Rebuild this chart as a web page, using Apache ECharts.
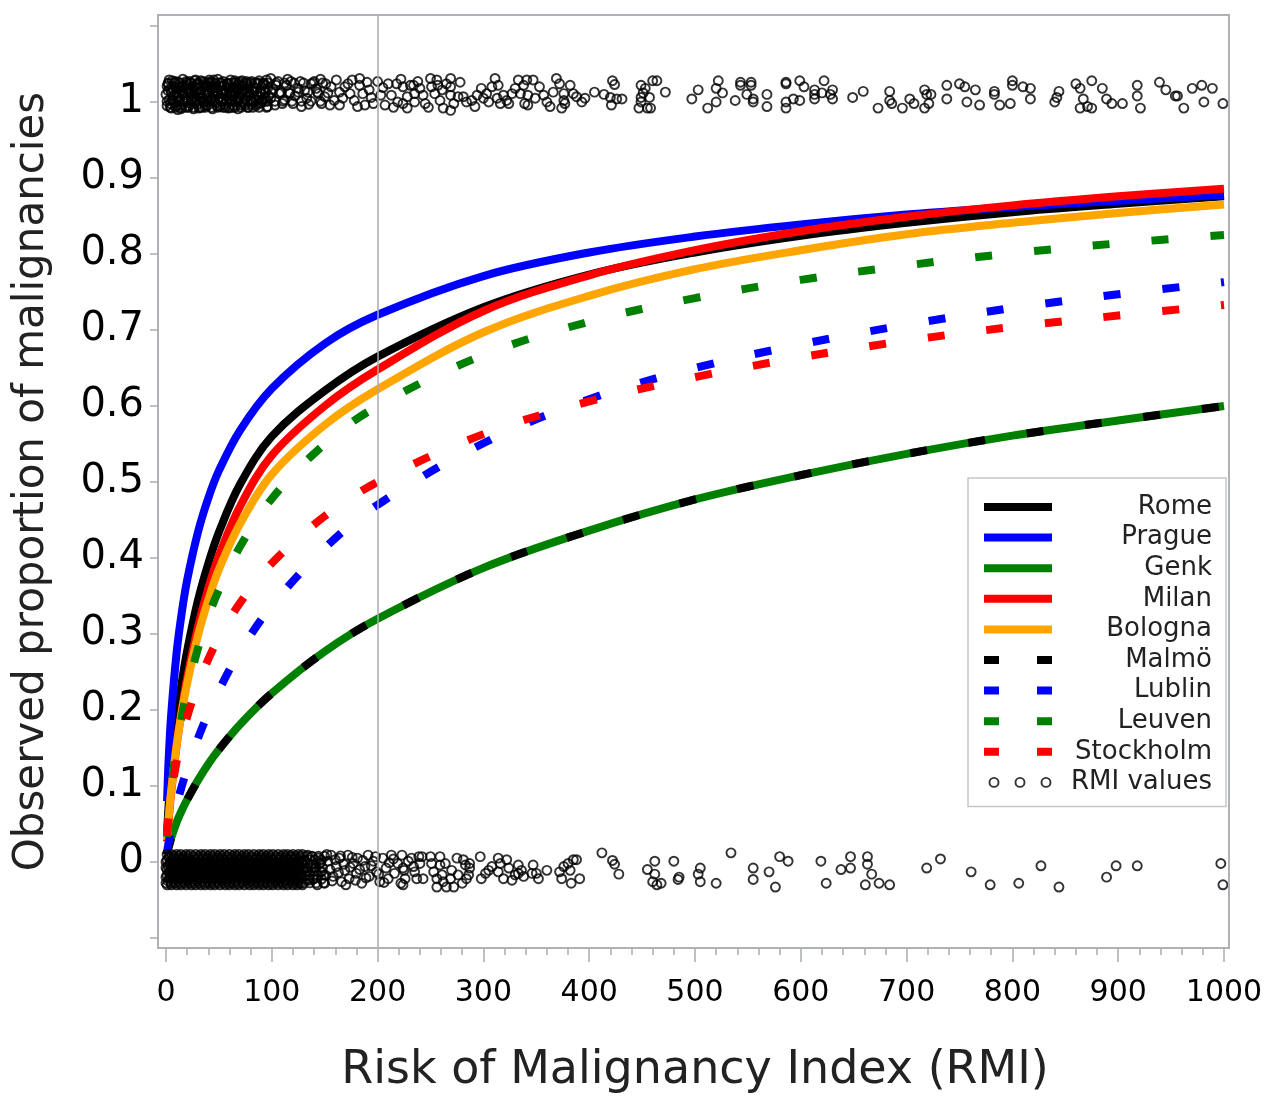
<!DOCTYPE html>
<html><head><meta charset="utf-8">
<script src="https://cdn.jsdelivr.net/npm/echarts@6/dist/echarts.min.js"></script>
<style>html,body{margin:0;padding:0;background:#fff}#c{width:1270px;height:1102px}</style>
</head><body><div id="c"></div>
<script>
// ---------- data ----------
const rmiGrid = [1,2,3,5,10,15,20,30,40,50,70,100,150,200,300,400,500,600,700,800,900,1000];
const rome      = [0.039,0.064,0.085,0.120,0.187,0.237,0.278,0.343,0.393,0.434,0.497,0.560,0.620,0.665,0.730,0.773,0.802,0.824,0.841,0.855,0.866,0.876];
const prague    = [0.080,0.119,0.149,0.196,0.275,0.329,0.371,0.433,0.479,0.515,0.568,0.623,0.682,0.720,0.771,0.802,0.823,0.839,0.852,0.862,0.870,0.878];
const genk      = [0.010,0.017,0.022,0.032,0.052,0.068,0.082,0.107,0.129,0.148,0.181,0.222,0.277,0.320,0.387,0.436,0.477,0.509,0.537,0.561,0.581,0.600];
const milan     = [0.027,0.046,0.063,0.093,0.153,0.201,0.242,0.308,0.360,0.403,0.468,0.535,0.600,0.648,0.725,0.772,0.805,0.830,0.849,0.864,0.876,0.886];
const bologna   = [0.029,0.049,0.066,0.095,0.153,0.198,0.235,0.297,0.345,0.385,0.445,0.510,0.575,0.622,0.697,0.745,0.780,0.805,0.826,0.841,0.854,0.865];
const malmo     = [0.010,0.017,0.022,0.032,0.052,0.068,0.082,0.107,0.129,0.148,0.181,0.222,0.277,0.320,0.387,0.436,0.477,0.509,0.537,0.561,0.581,0.600];
const lublin    = [0.013,0.022,0.030,0.044,0.075,0.100,0.123,0.162,0.196,0.226,0.277,0.337,0.413,0.470,0.551,0.609,0.650,0.681,0.707,0.729,0.747,0.763];
const leuven    = [0.033,0.053,0.070,0.098,0.151,0.192,0.225,0.280,0.323,0.358,0.415,0.478,0.550,0.600,0.667,0.711,0.742,0.766,0.785,0.801,0.814,0.825];
const stockholm = [0.035,0.053,0.067,0.090,0.132,0.164,0.191,0.233,0.267,0.295,0.341,0.393,0.455,0.500,0.563,0.606,0.638,0.664,0.686,0.704,0.719,0.733];

const yTicks = [-0.1,0,0.1,0.2,0.3,0.4,0.5,0.6,0.7,0.8,0.9,1,1.1];
const yLabels = [0,0.1,0.2,0.3,0.4,0.5,0.6,0.7,0.8,0.9,1];
const refLineRmi = 200;

// observed outcomes (malignant, plotted near 1): dense block as RMI lists per jitter level
const malignantDenseLevels = [1.025,1.013,1.001,0.993];
const malignantDenseRmi = [
[2,8,13,19,24,30,36,41,47,52,58,64,69,75,80,86,92,97,104,112,121,130,139,148],
[5,10,16,21,27,33,38,44,49,55,61,66,72,77,83,89,94,100,108,116,125,134,143],
[1,7,12,18,24,29,35,40,46,52,57,63,68,74,80,85,91,96,103,111,119,128,137,146],
[4,9,15,21,26,32,37,43,49,54,60,65,71,77,82,88,95]
];
// further malignant points as [RMI, jittered value]
const malignantPts = [
[0,1.010],[1,0.995],[2,1.024],[3,1.003],[4,1.017],[5,0.992],[6,1.028],[7,1.008],[8,0.999],[9,1.020],[10,1.012],[11,0.990],[12,1.026],[13,1.004],[14,1.015],[15,0.996],[16,1.030],[17,1.009],[18,1.022],[19,0.993],[20,1.002],[21,1.018],[22,1.027],[23,0.998],[24,1.011],[25,1.021],[26,0.991],[27,1.006],[28,1.029],[29,1.014],[30,0.997],[31,1.024],[32,1.005],[33,1.016],[34,0.993],[35,1.027],[36,1.010],[37,1.000],[38,1.020],[39,0.995],[40,1.013],[41,1.029],[42,1.003],[43,1.018],[44,0.991],[45,1.008],[46,1.025],[47,0.999],[48,1.015],[49,1.030],[50,1.005],[51,0.994],[52,1.021],[53,1.011],[54,1.027],[55,0.997],[56,1.016],[57,1.003],[58,1.024],[59,0.992],[60,1.010],[61,1.029],[62,1.001],[63,1.019],[64,0.996],[65,1.013],[66,1.026],[67,1.006],[68,0.991],[69,1.022],[70,1.010],[72,1.028],[73,0.998],[74,1.016],[75,1.004],[77,1.024],[78,0.993],[79,1.012],[81,1.027],[82,1.001],[83,1.018],[85,0.995],[86,1.009],[87,1.025],[89,1.014],[90,0.999],[92,1.022],[93,1.006],[95,1.029],[96,0.994],
[2,1.015],[6,1.002],[9,1.027],[12,1.011],[15,1.021],[18,1.000],[22,1.013],[25,1.004],[29,1.023],[32,1.012],[36,1.020],[39,1.005],[43,1.026],[46,1.014],[50,1.021],[53,1.001],[57,1.012],[60,1.024],[64,1.007],[68,1.017],[71,0.996],[76,1.013],[80,1.003],[84,1.025],[88,1.006],[94,1.016],
[1,1.021],[3,1.029],[4,0.998],[7,1.017],[8,1.026],[10,0.995],[11,1.006],[13,1.020],[14,0.991],[16,1.012],[17,1.001],[19,1.027],[20,1.016],[21,0.995],[23,1.025],[24,1.003],[26,1.017],[27,1.028],[28,0.999],[30,1.010],[31,0.992],[33,1.028],[34,1.007],[35,1.000],[37,1.023],[38,0.996],[40,1.026],[41,1.011],[42,1.020],[44,1.005],[45,1.029],[47,1.019],[48,0.995],[49,1.010],[51,1.025],[52,1.004],[54,1.014],[55,1.022],[56,0.993],[58,1.008],[59,1.018],[61,1.002],[62,1.013],[63,0.993],[65,1.028],[66,1.000],[67,1.019],[69,1.005],[70,1.027],[72,1.012],[73,1.021],[75,0.996],[76,1.027],[78,1.008],[79,1.020],[81,0.997],[82,1.014],[84,1.005],[85,1.019],[87,0.998],[88,1.028],[90,1.012],[91,1.003],[93,1.024],[94,1.001],[96,1.018],[97,1.008],
[101,1.017],[103,0.996],[106,1.027],[109,1.012],[112,1.003],[115,1.030],[122,1.008],[127,1.027],[131,1.015],[135,0.997],[142,1.018],[146,1.030],[153,1.012],[159,1.002],[169,1.020],[176,1.029],[181,0.994],[190,1.026],[194,1.006],[205,1.019],[215,0.993],[222,1.030],[238,1.027],[248,0.993],[265,1.024],[278,1.026],[292,0.994],[308,1.020],[327,1.011],[353,1.020],[363,0.994],
[99,1.031],[104,1.022],[99,1.005],[107,1.011],[110,0.998],[114,1.022],[117,1.011],[118,1.027],[120,0.998],[125,1.018],[128,0.994],[133,1.005],[137,1.024],[140,1.027],[144,1.011],[147,0.998],[150,1.007],[151,1.024],[155,0.996],[156,1.020],[161,1.029],[164,1.013],[164,0.996],[167,1.005],[172,1.024],[174,1.011],[178,1.002],[183,1.031],[183,1.022],[186,1.011],[188,0.996],[192,1.016],[196,0.998],[200,1.027],[203,1.009],[207,0.996],[210,1.024],[213,1.009],[218,1.024],[219,1.000],
[224,1.020],[224,0.998],[228,1.007],[231,1.022],[234,1.022],[235,1.011],[235,1.000],[228,0.992],[240,1.018],[243,1.009],[245,0.998],[250,1.031],[251,1.020],[254,1.011],[256,1.029],[257,1.022],[259,1.002],[261,1.016],[262,0.992],[269,1.031],[269,1.020],[269,1.009],[269,0.989],[272,0.998],[276,1.007],[281,1.007],[284,1.000],[289,1.002],[294,1.009],[298,1.018],[300,1.005],[303,1.011],[305,1.000],[311,1.031],[314,1.022],[313,1.005],[316,0.998],[319,1.009],[322,1.002],[324,0.998],[330,1.018],[333,1.029],[335,1.011],[338,1.022],[341,1.029],[342,1.009],[347,1.029],[339,0.998],[342,0.996],[349,1.005],[357,1.009],[360,1.000],[366,1.013],[369,1.031],[372,1.024],[376,1.011],[376,1.002],[377,0.998],[374,0.992],[382,1.022],[385,1.011],[388,1.007],[393,1.000],[396,1.005],[405,1.013],
[422,1.028],[424,1.023],[414,1.010],[420,1.006],[426,1.004],[431,1.004],[421,0.996],[449,1.022],[453,1.018],[451,1.012],[449,1.006],[449,1.000],[447,0.992],[455,0.992],[458,0.992],[457,1.006],[460,1.028],[464,1.028],[472,1.013],
[497,1.004],[503,1.016],[522,1.028],[520,1.018],[526,1.012],[520,1.000],[512,0.992],[538,1.002],[543,1.026],[543,1.022],[553,1.026],[553,1.022],[549,1.010],[555,1.004],[555,1.000],[568,1.010],[568,0.994],[586,1.026],[586,1.024],[599,1.028],[603,1.020],[613,1.016],[622,1.028],[613,1.010],[620,1.012],[630,1.016],[628,1.010],[630,1.004],[613,1.004],[599,1.002],[593,1.004],[586,1.000],[586,0.992],
[649,1.006],[659,1.014],[673,0.992],[684,1.014],[684,1.002],[686,0.998],[696,0.992],[703,1.004],[707,0.998],[717,1.016],[719,1.010],[723,1.010],[717,0.992],[721,0.998],
[738,1.022],[738,1.004],[750,1.024],[755,1.020],[765,1.016],[757,1.000],[769,0.996],[783,1.014],[783,1.010],[788,0.996],[798,0.998],[800,1.028],[800,1.022],[810,1.020],[817,1.018],[817,1.004],
[844,1.014],[842,1.006],[840,1.000],[860,1.024],[864,1.018],[875,1.028],[885,1.018],[864,0.992],[867,1.004],[871,0.994],[875,0.992],[889,1.004],[894,0.998],[904,0.998],[918,1.022],[918,1.008],[921,0.992],
[939,1.026],[945,1.016],[954,1.008],[956,1.008],[962,0.992],[970,1.018],[979,1.022],[989,1.018],[981,1.000],[999,0.998]
];

// observed outcomes (benign, plotted near 0): dense block, one RMI list per jitter level
const benignDenseLevels = [0.010,0.0075,0.005,0.0025,0.000,-0.0025,-0.005,-0.0075,-0.010,-0.0125,-0.015,-0.0175,-0.020,-0.0225,-0.025,-0.0275,-0.030];
const benignDenseRmi = [
[1,5,10,14,19,23,28,33,37,42,46,51,55,60,65,69,74,78,83,88,92,97,101,106,111,115,120,125,129],
[3,8,12,17,21,26,31,35,40,44,49,53,58,63,67,72,76,81,86,90,95,99,104,109,113,118,123,128,133,138,144,150],
[3,7,12,16,21,26,30,35,39,44,49,53,58,62,67,71,76,81,85,90,94,99,104,108,113,118,122,127],
[1,6,10,15,19,24,28,33,38,42,47,51,56,61,65,70,74,79,84,88,93,97,102,106,111,116,120,125,131,136,141,147],
[0,4,9,13,18,22,27,31,36,41,45,50,54,59,64,68,73,77,82,86,91,96,100,105,110,114,119,123,128],
[4,8,13,17,22,27,31,36,40,45,49,54,59,63,68,72,77,82,86,91,95,100,104,109,114,118,123,129,134,139,145],
[2,6,11,15,20,25,29,34,38,43,47,52,57,61,66,70,75,80,84,89,93,98,102,107,112,116,121,126],
[0,5,10,14,19,23,28,33,37,42,46,51,56,60,65,69,74,79,83,88,92,97,102,106,111,116,121,126,132,137,142,148],
[1,5,9,14,18,23,27,32,37,41,46,50,55,59,64,69,73,78,82,87,91,96,101,105,110,115,119,124,130],
[3,7,12,16,21,25,30,34,39,44,48,53,57,62,66,71,76,80,85,89,94,98,103,108,113,117,122,128,133,140,146],
[3,8,12,17,21,26,30,35,40,44,49,53,58,63,67,72,76,81,86,90,95,99,104,108,113,117,122,127],
[1,6,10,15,19,24,29,33,38,42,47,51,56,61,65,70,74,79,84,88,93,97,102,107,111,116,121,126,131,136,143,151],
[0,4,9,13,18,22,27,32,36,41,45,50,54,59,63,68,73,77,82,86,91,95,100,105,109,114,118,123,128],
[3,8,12,17,21,26,30,35,40,44,49,53,58,62,67,72,76,81,85,90,95,99,104,108,113,118,123,128,134,139,147],
[2,7,11,16,20,25,29,34,39,43,48,52,57,61,66,71,75,80,84,89,93,98,103,107,112,116,121,125],
[0,5,9,14,18,23,27,32,37,41,46,50,55,60,64,69,73,78,83,87,92,96,101,106,110,115,120,125,130,136,142,149],
[1,5,10,14,19,24,28,33,37,42,46,51,56,60,65,69,74,79,83,88,92,97,101,106,111,115,120,124,129]
];
const benignPts = [
[118,0.008],[121,-0.003],[124,-0.018],[127,-0.028],[131,0.002],[133,-0.012],[135,-0.024],[138,0.007],[141,-0.008],[143,-0.030],[146,-0.001],[149,-0.017],[152,0.010],[155,-0.010],[157,-0.025],[160,0.003],[163,-0.014],[165,0.008],[168,-0.003],[170,-0.030],[174,-0.007],[176,0.006],[179,-0.024],[183,-0.010],[186,0.002],[189,-0.021],[194,-0.005],[198,0.007],[201,-0.016],[206,-0.027],[211,-0.001],[215,0.004],
[134,0.009],[137,-0.004],[140,-0.022],[144,0.005],[147,-0.013],[150,-0.028],[153,0.001],[156,0.009],[158,-0.019],[161,-0.006],[164,0.005],[166,-0.026],[169,-0.011],[172,0.009],[173,-0.022],[177,-0.002],[180,-0.015],[181,0.005],[185,-0.028],[188,-0.006],[191,0.009],[192,-0.019],[196,0.001],[199,-0.013],[202,-0.026],[205,0.005],[208,-0.008],[210,-0.022],[213,0.009],[216,-0.015],[219,-0.002],[222,-0.028],[225,-0.011],
[223,0.009],[224,-0.008],[226,-0.022],[224,-0.030],[229,0.001],[232,0.005],[234,-0.006],[235,-0.013],[237,-0.022],[239,0.007],[240,-0.002],[242,0.007],[243,-0.022],[250,0.007],[251,-0.002],[253,-0.013],[256,-0.022],[256,-0.033],[259,0.007],[259,-0.004],[261,-0.017],[262,-0.026],[264,-0.002],[265,-0.033],[269,-0.022],[270,-0.011],[272,-0.033],[275,0.005],[276,-0.017],[280,-0.028],[281,0.003],[283,-0.004],[284,-0.022],[287,-0.002],[287,-0.008],[286,-0.017],[297,0.007],[298,-0.022],[302,-0.015],[305,-0.011],[308,-0.006],[314,0.005],[314,-0.013],[316,-0.002],[319,-0.022],[322,0.003],[324,-0.008],[327,-0.024],[330,-0.017],[333,-0.004],[333,-0.015],[336,-0.011],[338,-0.019],[346,-0.015],[347,-0.004],[350,-0.015],[352,-0.022],[360,-0.011],[372,-0.013],[374,-0.022],[376,-0.006],[380,-0.002],[382,-0.011],[383,-0.028],[385,0.003],[388,0.003],[391,-0.022],
[412,0.012],[422,0.002],[424,-0.003],[428,-0.016],[455,-0.010],[462,0.001],[462,-0.016],[460,-0.026],[464,-0.030],[468,-0.028],[480,0.001],[485,-0.020],[484,-0.023],[503,-0.016],[505,-0.008],[505,-0.026],[520,-0.028],[534,0.012],[555,-0.008],[555,-0.023],[570,-0.013],[576,-0.033],[580,0.007],[588,0.001],[619,0.001],[624,-0.028],[638,-0.010],[647,0.007],[647,-0.008],[663,0.007],[663,-0.003],[667,-0.016],[661,-0.030],[674,-0.028],[684,-0.030],[719,-0.008],[732,0.004],[761,-0.013],[779,-0.030],[806,-0.028],[827,-0.005],[844,-0.033],[889,-0.020],[898,-0.005],[918,-0.005],[997,-0.002],[999,-0.030]
];

// ---------- build ----------
const curves = [
  {name:'Rome',      vals:rome,      color:'#000000', dashed:false},
  {name:'Prague',    vals:prague,    color:'#0000ff', dashed:false},
  {name:'Genk',      vals:genk,      color:'#008000', dashed:false},
  {name:'Milan',     vals:milan,     color:'#ff0000', dashed:false},
  {name:'Bologna',   vals:bologna,   color:'#ffa500', dashed:false},
  {name:'Malmö',     vals:malmo,     color:'#000000', dashed:true},
  {name:'Lublin',    vals:lublin,    color:'#0000ff', dashed:true},
  {name:'Leuven',    vals:leuven,    color:'#008000', dashed:true},
  {name:'Stockholm', vals:stockholm, color:'#ff0000', dashed:true}
];
const DASH = [17, 42];
const FONT = 'DejaVu Sans';
const LW = 8;

const scatterData = [];
malignantDenseRmi.forEach((row, i) => row.forEach(x => scatterData.push([x, malignantDenseLevels[i]])));
malignantPts.forEach(p => scatterData.push(p));
benignDenseRmi.forEach((row, i) => row.forEach(x => scatterData.push([x, benignDenseLevels[i]])));
benignPts.forEach(p => scatterData.push(p));

const series = [{
  type:'line', data:[], silent:true, z:1,
  markLine:{silent:true, symbol:'none', label:{show:false},
    lineStyle:{color:'#a9adb1', width:1.5, type:'solid'},
    data:[{xAxis:refLineRmi}]}
}];
curves.forEach(c => series.push({
  name:c.name, type:'line', smooth:0.35, symbol:'none', z:3,
  data: rmiGrid.map((x,i)=>[x, c.vals[i]]),
  lineStyle:{color:c.color, width:LW, type: c.dashed ? DASH : 'solid', cap:'butt'},
  itemStyle:{color:c.color}
}));
series.push({
  name:'RMI values', type:'scatter', z:4, symbol:'circle', symbolSize:9,
  data: scatterData, large:false,
  itemStyle:{color:'rgba(0,0,0,0)', borderColor:'#000', borderWidth:1.9}
});

const threeRings = 'path://M0 0M68 20M5.5 10a4.5 4.5 0 1 0 9 0a4.5 4.5 0 1 0 -9 0M31.5 10a4.5 4.5 0 1 0 9 0a4.5 4.5 0 1 0 -9 0M57.5 10a4.5 4.5 0 1 0 9 0a4.5 4.5 0 1 0 -9 0';
const legendData = curves.map(c => {
  const item = {name:c.name, itemStyle:{opacity:0}};
  if (c.dashed) item.lineStyle = {type:[15,38]};
  return item;
});
legendData.push({name:'RMI values', icon: threeRings, itemStyle:{borderWidth:1.9}});

const chart = echarts.init(document.getElementById('c'), null, {renderer:'canvas'});
chart.setOption({
  animation:false,
  backgroundColor:'#fff',
  grid:{left:166, right:46, top:15, bottom:154, containLabel:false, outerBoundsMode:'none'},
  graphic:[{type:'rect', silent:true, z:10,
    shape:{x:158, y:15, width:1071, height:933},
    style:{fill:'none', stroke:'#aeb2b6', lineWidth:2}}],
  xAxis:{
    type:'value', min:0, max:1000, interval:100,
    name:'Risk of Malignancy Index (RMI)', nameLocation:'middle', nameGap:100,
    nameTextStyle:{fontFamily:FONT, fontSize:46, color:'#222'},
    axisLine:{show:false, onZero:false},
    axisTick:{show:true, length:14, lineStyle:{color:'#a9adb1', width:1.5}},
    minorTick:{show:true, splitNumber:5, length:7, lineStyle:{color:'#a9adb1', width:1.5}},
    splitLine:{show:false}, minorSplitLine:{show:false},
    axisLabel:{fontFamily:FONT, fontSize:30, color:'#000', margin:30, formatter: v => String(v)}
  },
  yAxis:{
    type:'value', min:-0.1132, max:1.1145, offset:8,
    name:'Observed proportion of malignancies', nameLocation:'middle', nameGap:105, nameRotate:90,
    nameTextStyle:{fontFamily:FONT, fontSize:42, color:'#222'},
    axisLine:{show:false, onZero:false},
    axisTick:{show:true, length:8, customValues:yTicks, lineStyle:{color:'#a9adb1', width:1.5}},
    splitLine:{show:false},
    axisLabel:{fontFamily:FONT, fontSize:40, color:'#000', margin:14, customValues:yLabels,
      formatter: v => String(v)}
  },
  legend:{
    orient:'vertical', left:968, top:478, selectedMode:false,
    backgroundColor:'#fff', borderColor:'#c4c7ca', borderWidth:1.5, borderRadius:0,
    padding:[16,14,11,12], itemWidth:68, itemHeight:20, itemGap:4.6,
    lineStyle:{width:LW},
    data: legendData,
    formatter: n => '{t|' + n + '}',
    textStyle:{rich:{t:{width:155, align:'right', fontFamily:FONT, fontSize:26, color:'#222', lineHeight:28}}}
  },
  series: series
});
</script></body></html>
